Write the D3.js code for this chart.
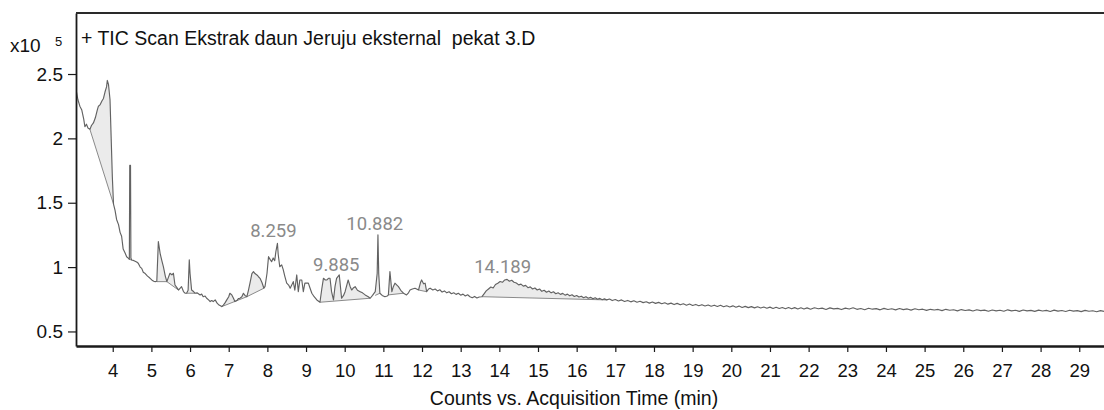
<!DOCTYPE html>
<html><head><meta charset="utf-8">
<script src="https://cdn.jsdelivr.net/npm/d3@7"></script>
<style>
html,body{margin:0;padding:0;background:#fff;}
svg{display:block;font-family:"Liberation Sans",Arial,sans-serif;}
</style></head>
<body><svg id="c" width="1104" height="410"></svg>
<script>
// ---- data (x10^5 counts vs minutes) ----
const times = [3.05,3.10,3.15,3.20,3.25,3.28,3.32,3.36,3.41,3.45,3.50,3.55,3.60,3.63,3.67,3.72,3.76,3.80,3.84,3.86,3.89,3.93,3.96,3.99,4.02,4.06,4.10,4.15,4.19,4.23,4.27,4.32,4.36,4.40,4.43,4.44,4.46,4.47,4.49,4.55,4.62,4.66,4.71,4.75,4.79,4.84,4.90,4.96,5.01,5.06,5.10,5.14,5.18,5.23,5.27,5.31,5.36,5.40,5.44,5.48,5.53,5.57,5.61,5.66,5.70,5.74,5.78,5.83,5.87,5.91,5.95,5.98,6.00,6.04,6.09,6.13,6.18,6.26,6.30,6.34,6.39,6.43,6.48,6.52,6.56,6.60,6.65,6.70,6.75,6.82,6.86,6.90,6.95,7.00,7.03,7.08,7.12,7.16,7.21,7.25,7.29,7.34,7.38,7.42,7.47,7.51,7.55,7.60,7.64,7.68,7.73,7.77,7.81,7.86,7.91,7.94,7.99,8.03,8.07,8.11,8.15,8.19,8.22,8.26,8.28,8.32,8.37,8.41,8.45,8.50,8.55,8.59,8.63,8.67,8.71,8.76,8.80,8.84,8.89,8.93,8.97,9.02,9.06,9.10,9.15,9.21,9.28,9.36,9.41,9.45,9.50,9.54,9.58,9.62,9.66,9.71,9.75,9.79,9.86,9.92,9.97,10.01,10.09,10.14,10.18,10.23,10.27,10.33,10.40,10.46,10.53,10.61,10.66,10.72,10.79,10.84,10.86,10.88,10.91,10.97,11.04,11.10,11.13,11.17,11.22,11.26,11.30,11.35,11.39,11.45,11.52,11.60,11.65,11.69,11.75,11.82,11.86,11.91,11.96,11.99,12.04,12.08,12.12,12.17,
12.21,12.28,12.34,12.40,12.46,12.52,12.58,12.64,12.70,12.76,12.82,12.88,12.94,13.00,13.06,13.12,13.18,13.24,13.30,13.36,13.42,13.48,13.55,
13.60,13.66,13.72,13.78,13.84,13.90,13.96,14.02,14.08,14.14,14.20,14.26,14.32,14.38,14.44,14.50,14.56,14.62,14.68,14.74,14.80,14.86,14.92,14.98,15.04,15.10,15.16,15.22,15.28,15.34,15.40,15.46,15.52,15.58,15.64,15.70,15.76,15.82,15.88,15.94,16.00,16.06,16.12,16.18,16.24,16.30,16.36,16.42,16.48,16.54,16.60,16.66,16.72,16.78,
16.85,16.92,17.00,17.08,17.16,17.24,17.32,17.40,17.48,17.56,17.64,17.72,17.80,17.88,17.96,18.04,18.12,18.20,18.28,18.36,18.44,18.52,18.60,18.68,18.76,18.84,18.92,19.00,19.08,19.16,19.24,19.32,19.40,19.48,19.56,19.64,19.72,19.80,19.88,19.96,20.04,20.12,20.20,20.28,20.36,20.44,20.52,20.60,20.68,20.76,20.84,20.92,21.00,21.08,21.16,21.24,21.32,21.40,21.48,21.56,21.64,21.72,21.80,21.88,21.96,
22.05,22.15,22.25,22.35,22.45,22.55,22.65,22.75,22.85,22.95,23.05,23.15,23.25,23.35,23.45,23.55,23.65,23.75,23.85,23.95,24.05,24.15,24.25,24.35,24.45,24.55,24.65,24.75,24.85,24.95,25.05,25.15,25.25,25.35,25.45,25.55,25.65,25.75,25.85,25.95,26.05,26.15,26.25,26.35,26.45,26.55,26.65,26.75,26.85,26.95,27.05,27.15,27.25,27.35,27.45,27.55,27.65,27.75,27.85,27.95,28.05,28.15,28.25,28.35,28.45,28.55,28.65,28.75,28.85,28.95,29.05,29.15,29.25,29.35,29.45,29.55,29.64];
const counts = [2.38,2.30,2.25,2.22,2.15,2.09,2.11,2.08,2.07,2.10,2.12,2.16,2.22,2.25,2.26,2.29,2.31,2.36,2.40,2.45,2.42,2.30,2.00,1.70,1.49,1.44,1.37,1.33,1.27,1.24,1.14,1.11,1.08,1.07,1.06,1.79,1.79,1.07,1.055,1.05,1.04,1.03,1.00,0.99,0.96,0.95,0.93,0.915,0.90,0.89,0.887,0.89,1.198,1.10,1.05,1.003,0.93,0.887,0.92,0.952,0.94,0.952,0.861,0.84,0.822,0.835,0.848,0.81,0.797,0.797,0.82,1.056,0.95,0.822,0.81,0.797,0.80,0.784,0.79,0.77,0.775,0.758,0.745,0.732,0.74,0.732,0.745,0.72,0.705,0.693,0.705,0.72,0.745,0.77,0.797,0.784,0.76,0.732,0.74,0.755,0.758,0.77,0.797,0.78,0.77,0.82,0.875,0.95,0.965,0.95,0.939,0.925,0.913,0.88,0.836,0.85,0.95,1.081,1.06,1.042,1.071,1.05,1.12,1.185,1.10,1.003,1.017,0.98,0.93,0.875,0.86,0.836,0.86,0.887,0.82,0.939,0.809,0.90,0.90,0.809,0.875,0.875,0.875,0.84,0.797,0.77,0.745,0.727,0.836,0.913,0.90,0.90,0.913,0.913,0.809,0.745,0.85,0.913,0.939,0.758,0.78,0.809,0.90,0.85,0.822,0.84,0.848,0.82,0.809,0.80,0.784,0.77,0.758,0.78,0.809,0.95,1.25,0.95,0.797,0.78,0.77,0.775,0.784,0.965,0.809,0.85,0.875,0.86,0.848,0.82,0.797,0.784,0.80,0.822,0.83,0.836,0.83,0.822,0.88,0.90,0.87,0.875,0.809,0.83,
0.836,0.822,0.83,0.815,0.824,0.806,0.815,0.80,0.808,0.793,0.80,0.788,0.797,0.782,0.79,0.776,0.785,0.77,0.762,0.772,0.76,0.768,0.77,
0.79,0.815,0.83,0.845,0.838,0.865,0.875,0.888,0.882,0.90,0.905,0.89,0.898,0.882,0.876,0.862,0.868,0.852,0.858,0.84,0.846,0.83,0.838,0.822,0.83,0.812,0.82,0.805,0.814,0.80,0.808,0.793,0.80,0.788,0.796,0.782,0.79,0.777,0.785,0.772,0.779,0.767,0.774,0.762,0.77,0.758,0.765,0.754,0.762,0.75,0.757,0.746,0.753,0.745,
0.752,0.74,0.748,0.737,0.745,0.733,0.741,0.73,0.738,0.727,0.735,0.724,0.731,0.72,0.729,0.718,0.726,0.715,0.723,0.712,0.72,0.709,0.718,0.707,0.715,0.704,0.713,0.702,0.71,0.70,0.708,0.698,0.706,0.696,0.704,0.694,0.703,0.692,0.70,0.69,0.699,0.688,0.697,0.686,0.695,0.685,0.693,0.683,0.692,0.682,0.69,0.68,0.689,0.679,0.688,0.678,0.686,0.677,0.686,0.676,0.685,0.675,0.684,0.674,0.683,
0.673,0.684,0.676,0.681,0.671,0.683,0.675,0.679,0.67,0.681,0.674,0.684,0.672,0.678,0.669,0.68,0.673,0.677,0.668,0.679,0.671,0.676,0.668,0.678,0.67,0.675,0.666,0.676,0.669,0.673,0.664,0.672,0.667,0.671,0.662,0.672,0.665,0.669,0.66,0.67,0.663,0.668,0.659,0.669,0.662,0.666,0.657,0.667,0.66,0.665,0.657,0.668,0.66,0.665,0.656,0.667,0.66,0.664,0.656,0.666,0.659,0.664,0.655,0.666,0.658,0.663,0.655,0.665,0.658,0.662,0.654,0.664,0.657,0.661,0.653,0.662,0.656];

// integrated peak regions: start/end time and baseline counts at each end
const regionStart = [3.41,4.43,5.14,5.40,5.91,6.82,7.47,9.36,10.79,11.13,11.91,13.55];
const regionEnd   = [4.02,4.49,5.40,5.70,6.13,7.47,7.91,10.66,10.91,11.52,12.12,16.78];
const baseStart   = [2.07,1.06,0.887,0.887,0.797,0.693,0.77,0.727,0.78,0.784,0.822,0.77];
const baseEnd     = [1.49,1.055,0.887,0.822,0.797,0.77,0.836,0.758,0.797,0.797,0.809,0.745];

const peakLabels = ["8.259","9.885","10.882","14.189"];
const peakTimes  = [8.259,9.885,10.882,14.189];
const peakApex   = [1.185,0.92,1.24,0.905];

const xTicks = [4,5,6,7,8,9,10,11,12,13,14,15,16,17,18,19,20,21,22,23,24,25,26,27,28,29];
const yTicks = [0.5,1,1.5,2,2.5];
const titleText = "+ TIC Scan Ekstrak daun Jeruju eksternal  pekat 3.D";
const xTitle = "Counts vs. Acquisition Time (min)";

// ---- drawing ----
const L=76, R=1104, T=13, B=346;
const svg = d3.select("#c");
const x = d3.scaleLinear().domain([3.05,29.64]).range([L,R]);
const y = d3.scaleLinear().domain([0.387,2.974]).range([B,T]);

const pts = times.map((t,i)=>[t,counts[i]]);
const interp = t => {
  const i = d3.bisector(d=>d[0]).left(pts,t);
  if (i<=0) return pts[0][1];
  if (i>=pts.length) return pts[pts.length-1][1];
  const a=pts[i-1], b=pts[i];
  return a[1]+(b[1]-a[1])*(t-a[0])/(b[0]-a[0]);
};

svg.append("clipPath").attr("id","clip").append("rect")
  .attr("x",L).attr("y",T).attr("width",R-L).attr("height",B-T);
const g = svg.append("g").attr("clip-path","url(#clip)");
const line = d3.line().x(d=>x(d[0])).y(d=>y(d[1]));

// shaded peak areas
regionStart.forEach((s,k)=>{
  const e = regionEnd[k];
  const inner = pts.filter(p=>p[0]>s && p[0]<e);
  const top = [[s,interp(s)],...inner,[e,interp(e)]];
  const base = [[e,baseEnd[k]],[s,baseStart[k]]];
  g.append("path").attr("d", line(top.concat(base))+"Z")
    .attr("fill","#ebebeb").attr("stroke","none");
  g.append("path").attr("d", line(base))
    .attr("fill","none").attr("stroke","#8a8a8a").attr("stroke-width",1);
});

// trace
g.append("path").attr("d", line(pts))
  .attr("fill","none").attr("stroke","#626262").attr("stroke-width",1.15)
  .attr("stroke-linejoin","round");

// peak labels
peakLabels.forEach((lab,i)=>{
  svg.append("text").attr("x",x(peakTimes[i])-4).attr("y",y(peakApex[i])-6)
    .attr("text-anchor","middle").attr("fill","#8a8a8a")
    .attr("font-family","Roboto, 'Liberation Sans', sans-serif")
    .attr("font-size",18.5).text(lab);
});

// axes
const xa = svg.append("g").attr("transform",`translate(0,${B})`)
  .call(d3.axisBottom(x).tickValues(xTicks).tickSize(6).tickSizeOuter(0).tickFormat(d=>String(d)));
xa.select(".domain").attr("stroke","#1a1a1a").attr("stroke-width",2.5);
xa.selectAll(".tick line").attr("stroke","#1a1a1a").attr("stroke-width",1.2);
xa.selectAll(".tick text").attr("font-size",18.5).attr("fill","#111").attr("dy",0).attr("y",31)
  .attr("font-family","'Liberation Sans',Arial,sans-serif");

const ya = svg.append("g").attr("transform",`translate(${L},0)`)
  .call(d3.axisLeft(y).tickValues(yTicks).tickSize(8).tickSizeOuter(0).tickFormat(d=>String(d)));
ya.select(".domain").attr("stroke","#1a1a1a").attr("stroke-width",1.8);
ya.selectAll(".tick line").attr("stroke","#1a1a1a").attr("stroke-width",1.2);
ya.selectAll(".tick text").attr("font-size",19).attr("fill","#111").attr("x",-13)
  .attr("font-family","'Liberation Sans',Arial,sans-serif");

// top frame line
svg.append("line").attr("x1",L).attr("x2",R).attr("y1",T).attr("y2",T)
  .attr("stroke","#2a2a2a").attr("stroke-width",2);

// title and labels
svg.append("text").attr("x",81).attr("y",44.5).attr("font-size",19.5).attr("fill","#111")
  .style("white-space","pre").attr("xml:space","preserve").text(titleText);
const ex = svg.append("text").attr("x",10).attr("y",52).attr("font-size",19).attr("fill","#111");
ex.append("tspan").text("x10");
ex.append("tspan").attr("x",55).attr("y",45.5).attr("font-size",13).text("5");
svg.append("text").attr("x",574).attr("y",405).attr("text-anchor","middle")
  .attr("font-size",19.5).attr("fill","#111").text(xTitle);
</script></body></html>
